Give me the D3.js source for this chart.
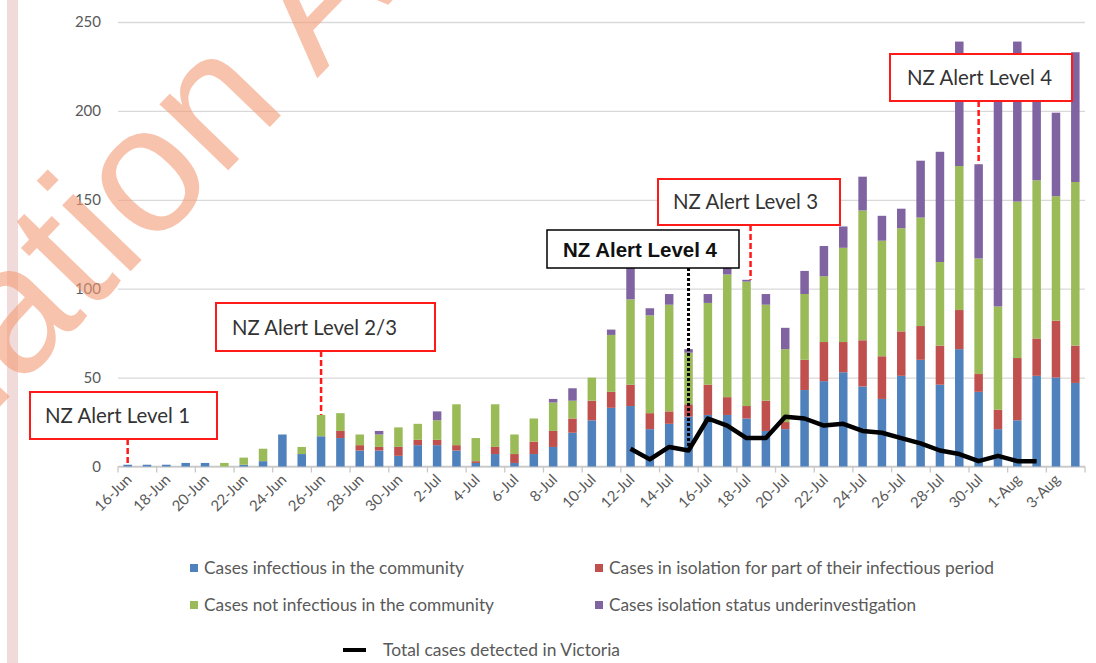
<!DOCTYPE html>
<html>
<head>
<meta charset="utf-8">
<script src="https://cdn.jsdelivr.net/npm/d3@7/dist/d3.min.js"></script>
<style>
  body { margin: 0; background: #fff; }
  text { font-family: Lato, "Open Sans", sans-serif; }
</style>
</head>
<body>
<svg id="chart" width="1096" height="663"></svg>
<script>
// daily categories, 16 Jun - 4 Aug
var days = ["16-Jun","17-Jun","18-Jun","19-Jun","20-Jun","21-Jun","22-Jun","23-Jun","24-Jun","25-Jun",
    "26-Jun","27-Jun","28-Jun","29-Jun","30-Jun","1-Jul","2-Jul","3-Jul","4-Jul","5-Jul",
    "6-Jul","7-Jul","8-Jul","9-Jul","10-Jul","11-Jul","12-Jul","13-Jul","14-Jul","15-Jul",
    "16-Jul","17-Jul","18-Jul","19-Jul","20-Jul","21-Jul","22-Jul","23-Jul","24-Jul","25-Jul",
    "26-Jul","27-Jul","28-Jul","29-Jul","30-Jul","31-Jul","1-Aug","2-Aug","3-Aug","4-Aug"];

var tickDays = ["16-Jun","18-Jun","20-Jun","22-Jun","24-Jun","26-Jun","28-Jun","30-Jun","2-Jul","4-Jul",
    "6-Jul","8-Jul","10-Jul","12-Jul","14-Jul","16-Jul","18-Jul","20-Jul","22-Jul","24-Jul",
    "26-Jul","28-Jul","30-Jul","1-Aug","3-Aug"];

var infectious = [1,1,1,2,2,0,1,3,18,7, 17,16,9,9,6,12,12,9,2,7, 2,7,11,19,26,33,34,21,24,28,
    29,29,27,20,21,43,48,53,45,38, 51,60,46,66,42,21,26,51,50,47];
var partIsolation = [0,0,0,0,0,0,0,0,0,0, 0,4,3,2,5,3,3,3,1,4, 5,7,9,8,11,9,12,9,7,7,
    17,10,7,17,4,17,22,17,26,24, 25,19,22,22,10,11,35,21,32,21];
var notInfectious = [0,0,0,0,0,2,4,7,0,4, 12,10,6,7,11,9,11,23,13,24, 11,13,16,10,13,32,48,55,60,29,
    46,69,70,54,41,37,37,53,73,65, 58,61,47,81,65,58,88,89,70,92];
var underInvestigation = [0,0,0,0,0,0,0,0,0,0, 0,0,0,2,0,0,5,0,0,0, 0,0,2,7,0,3,18,4,6,2,
    5,4,1,6,12,13,17,12,19,14, 11,32,62,70,53,120,90,49,47,73];
// Victoria total, only 12-Jul to 2-Aug
var victoria = [null,null,null,null,null,null,null,null,null,null,
    null,null,null,null,null,null,null,null,null,null,
    null,null,null,null,null,null,10,4,11,9,
    27,23,16,16,28,27,23,24,20,19,
    16,13,9,7,3,6,3,3,null,null];

var seriesNames = ["Cases infectious in the community",
    "Cases in isolation for part of their infectious period",
    "Cases not infectious in the community",
    "Cases isolation status underinvestigation"];
var lineName = "Total cases detected in Victoria";
var yTicks = [0, 50, 100, 150, 200, 250];

var alertLabels = ["NZ Alert Level 1", "NZ Alert Level 2/3", "NZ Alert Level 4", "NZ Alert Level 3", "NZ Alert Level 4"];
var alertDays = ["16-Jun", "26-Jun", "15-Jul", "18-Jul", "30-Jul"];

var colors = ["#4F81BD", "#C0504D", "#9BBB59", "#8064A2"];
var keys = ["a", "b", "c", "d"];

var svg = d3.select('#chart');

// pink strip on the left edge of the page
svg.append('rect').attr('x', 7).attr('y', 0).attr('width', 11).attr('height', 663).attr('fill', '#f0dada');

var x = d3.scaleBand().domain(days).range([118, 1085]).paddingInner(0.56).paddingOuter(0.28);
var y = d3.scaleLinear().domain([0, 250]).range([466.5, 22]);
var cx = function (d) { return x(d) + x.bandwidth() / 2; };

// gridlines + y labels
var yAxis = svg.append('g').attr('transform', 'translate(118,0)')
    .call(d3.axisLeft(y).tickValues(yTicks).tickSize(-967).tickPadding(17));
yAxis.select('.domain').remove();
yAxis.selectAll('.tick line').attr('stroke', '#d9d9d9').attr('stroke-width', 1.3);
yAxis.selectAll('.tick text').attr('fill', '#595959').style('font-size', '15px');

// baseline + tick marks every two days
svg.append('line').attr('x1', 118).attr('x2', 1085).attr('y1', y(0)).attr('y2', y(0))
    .attr('stroke', '#c8c8c8').attr('stroke-width', 1.3);
var edge = (x.step() - x.bandwidth()) / 2;
svg.selectAll('.xtick').data(tickDays.concat(["end"])).enter().append('line')
    .attr('class', 'xtick')
    .attr('x1', function (d) { return d === "end" ? 1085 : x(d) - edge; })
    .attr('x2', function (d) { return d === "end" ? 1085 : x(d) - edge; })
    .attr('y1', y(0)).attr('y2', y(0) + 6)
    .attr('stroke', '#c8c8c8').attr('stroke-width', 1.3);

svg.selectAll('.xlab').data(tickDays).enter().append('text')
    .attr('class', 'xlab')
    .attr('transform', function (d) { return 'translate(' + (cx(d) + 5) + ',' + (y(0) + 14) + ') rotate(-45)'; })
    .attr('text-anchor', 'end')
    .attr('fill', '#595959').style('font-size', '15px')
    .text(function (d) { return d; });

// stacked bars
var rows = days.map(function (d, i) {
    return { day: d, a: infectious[i], b: partIsolation[i], c: notInfectious[i], d: underInvestigation[i] };
});
var stacked = d3.stack().keys(keys)(rows);
svg.selectAll('.layer').data(stacked).enter().append('g')
    .attr('class', 'layer')
    .attr('fill', function (s, i) { return colors[i]; })
    .selectAll('rect').data(function (s) { return s; }).enter().append('rect')
    .attr('x', function (p) { return x(p.data.day); })
    .attr('width', x.bandwidth())
    .attr('y', function (p) { return y(p[1]); })
    .attr('height', function (p) { return y(p[0]) - y(p[1]); });

// Victoria line
var line = d3.line()
    .defined(function (v) { return v !== null; })
    .x(function (v, i) { return cx(days[i]); })
    .y(function (v) { return y(v); });
svg.append('path').datum(victoria)
    .attr('d', line).attr('fill', 'none')
    .attr('stroke', '#000').attr('stroke-width', 4.5).attr('stroke-linejoin', 'round');

// alert boxes (layout only)
var noteBoxes = [
    { x: 30, y: 392, w: 187, h: 47, tx: 45, tl: 145, ty: 423, color: '#ff1a1a', bold: false },
    { x: 216, y: 303, w: 219, h: 48, tx: 232, tl: 165, ty: 335, color: '#ff1a1a', bold: false },
    { x: 547, y: 230, w: 192, h: 38, tx: 563, tl: 154, ty: 257, color: '#000', bold: true },
    { x: 658, y: 179, w: 182, h: 46, tx: 673, tl: 145, ty: 209, color: '#ff1a1a', bold: false },
    { x: 890, y: 54, w: 182, h: 47, tx: 907, tl: 145, ty: 85, color: '#ff1a1a', bold: false }
];

alertLabels.forEach(function (label, i) {
    var b = noteBoxes[i];
    var di = days.indexOf(alertDays[i]);
    var total = infectious[di] + partIsolation[di] + notInfectious[di] + underInvestigation[di];
    var endVal = b.bold ? victoria[di] : total;
    var lx = cx(alertDays[i]) + (i === 3 ? 4 : 0);
    svg.append('line')
        .attr('x1', lx).attr('x2', lx)
        .attr('y1', b.y + b.h).attr('y2', y(endVal))
        .attr('stroke', b.bold ? '#000' : '#ff1a1a')
        .attr('stroke-width', b.bold ? 3 : 2.5)
        .attr('stroke-dasharray', b.bold ? '3,2' : '6,3');
    svg.append('rect').attr('x', b.x).attr('y', b.y).attr('width', b.w).attr('height', b.h)
        .attr('fill', '#fff').attr('stroke', b.color).attr('stroke-width', b.bold ? 1.5 : 2);
    var t = svg.append('text').attr('x', b.tx).attr('y', b.ty)
        .attr('textLength', b.tl).attr('lengthAdjust', 'spacingAndGlyphs')
        .text(label);
    if (b.bold) {
        t.style('font-family', '"Liberation Sans", Arial, sans-serif').style('font-weight', 'bold')
            .style('font-size', '20px').attr('fill', '#111');
    } else {
        t.style('font-size', '21px').attr('fill', '#333');
    }
});

// legend
var legendPos = [
    { x: 190, y: 568, tl: 260 }, { x: 595, y: 568, tl: 385 },
    { x: 190, y: 605, tl: 290 }, { x: 595, y: 605, tl: 307 }
];
seriesNames.forEach(function (name, i) {
    var p = legendPos[i];
    svg.append('rect').attr('x', p.x).attr('y', p.y - 4).attr('width', 8).attr('height', 8).attr('fill', colors[i]);
    svg.append('text').attr('x', p.x + 14).attr('y', p.y + 6)
        .attr('textLength', p.tl).attr('lengthAdjust', 'spacingAndGlyphs')
        .attr('fill', '#595959').style('font-size', '17px').text(name);
});
svg.append('line').attr('x1', 343).attr('x2', 366).attr('y1', 650).attr('y2', 650)
    .attr('stroke', '#000').attr('stroke-width', 4);
svg.append('text').attr('x', 383).attr('y', 656)
    .attr('textLength', 237).attr('lengthAdjust', 'spacingAndGlyphs')
    .attr('fill', '#595959').style('font-size', '17px').text(lineName);

// watermark across the top left
var wm = svg.append('g').attr('transform', 'translate(18,388) rotate(-46)');
var wmText = wm.append('text')
    .style('font-family', '"Liberation Sans", Arial, sans-serif').style('font-size', '180px')
    .attr('fill', '#F59C76').attr('opacity', 0.6)
    .text('Released under the Official Information Act 1982');
var prefix = wmText.node().getSubStringLength(0, 'Released under the Official Inform'.length);
wmText.attr('x', -prefix);
</script>
</body>
</html>
